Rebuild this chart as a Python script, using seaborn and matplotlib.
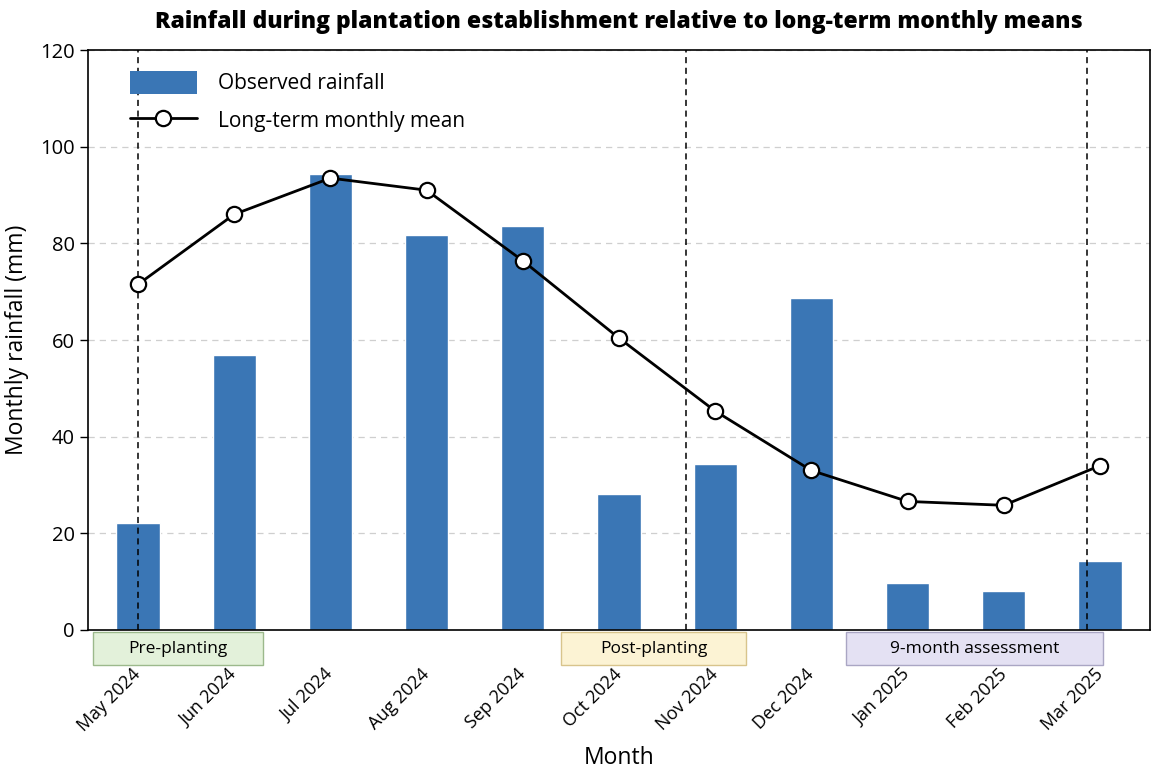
import numpy as np
import pandas as pd
import matplotlib
matplotlib.use("Agg")
import matplotlib.pyplot as plt
import seaborn as sns
from matplotlib.patches import Rectangle
from matplotlib.lines import Line2D
from matplotlib.patches import Patch

# data
months = ["May 2024", "Jun 2024", "Jul 2024", "Aug 2024", "Sep 2024", "Oct 2024",
          "Nov 2024", "Dec 2024", "Jan 2025", "Feb 2025", "Mar 2025"]
observed = [22.2, 56.9, 94.4, 81.7, 83.5, 28.2, 34.3, 68.6, 9.8, 8.0, 14.3]
longterm = [71.5, 86.0, 93.5, 91.0, 76.4, 60.4, 45.3, 33.0, 26.6, 25.8, 34.0]

# event markers (month index positions) and phase bands
events = [0.0, 5.7, 9.86]
phase_labels = ["Pre-planting", "Post-planting", "9-month assessment"]
phase_start = [-0.47, 4.40, 7.36]
phase_end = [1.30, 6.32, 10.03]
phase_fill = ["#e3f1da", "#fcf3d4", "#e4e1f3"]
phase_edge = ["#9cb98c", "#d8c48c", "#aaa6c4"]

df = pd.DataFrame({"month": months, "observed": observed, "longterm": longterm})

sns.set_theme(style="white")
plt.rcParams["font.family"] = ["Open Sans", "DejaVu Sans"]
plt.rcParams.update({"text.color": "black", "axes.labelcolor": "black",
                     "xtick.color": "black", "ytick.color": "black"})

fig = plt.figure(figsize=(11.68, 7.71), dpi=100)
ax = fig.add_axes([0.0753, 0.1829, 0.9093, 0.7522])

bar_color = "#3a76b5"
sns.barplot(data=df, x="month", y="observed", color=bar_color, width=0.45,
            saturation=1, ax=ax, zorder=2)
sns.lineplot(data=df, x="month", y="longterm", sort=False, color="black", lw=2,
             marker="o", markersize=11, markerfacecolor="white",
             markeredgecolor="black", markeredgewidth=1.6, ax=ax, zorder=4)

for ev in events:
    ax.axvline(ev, color="black", ls=(0, (4, 3)), lw=1.1, zorder=3)

ax.set_xlim(-0.52, 10.52)
ax.set_ylim(0, 120)
ax.set_yticks(np.arange(0, 121, 20))
ax.yaxis.grid(True, ls=(0, (5, 4)), color="#cfcfcf", lw=0.9)
ax.set_axisbelow(True)

for s in ax.spines.values():
    s.set_color("black")
    s.set_linewidth(1.2)

ax.tick_params(axis="y", left=True, length=6, width=1, labelsize=14.5)
ax.tick_params(axis="x", bottom=False, length=0, pad=30, labelsize=13)
for lab in ax.get_xticklabels():
    lab.set_rotation(45)
    lab.set_ha("right")
    lab.set_va("center")
    lab.set_rotation_mode("anchor")

ax.set_xlabel("Month", fontsize=16.5, labelpad=8)
ax.set_ylabel("Monthly rainfall (mm)", fontsize=16.5, labelpad=8)
ax.set_title("Rainfall during plantation establishment relative to long-term monthly means",
             fontsize=16.5, fontweight="heavy", pad=16)

# phase boxes under the x-axis
trans = ax.get_xaxis_transform()
for lab, x0, x1, fc, ec in zip(phase_labels, phase_start, phase_end, phase_fill, phase_edge):
    ax.add_patch(Rectangle((x0, -0.061), x1 - x0, 0.058, transform=trans,
                           facecolor=fc, edgecolor=ec, lw=1, clip_on=False, zorder=5))
    ax.text((x0 + x1) / 2, -0.032, lab, transform=trans, ha="center", va="center",
            fontsize=12.5, zorder=6)

handles = [Patch(facecolor=bar_color, edgecolor="none"),
           Line2D([0], [0], color="black", lw=2, marker="o", markersize=11,
                  markerfacecolor="white", markeredgecolor="black", markeredgewidth=1.6)]
ax.legend(handles, ["Observed rainfall", "Long-term monthly mean"], loc="upper left",
          frameon=False, fontsize=15, handlelength=3.2, handleheight=1.3,
          borderaxespad=0.6, bbox_to_anchor=(0.02, 1.0), labelspacing=0.7,
          handletextpad=1.0)

fig.savefig("out.png", dpi=100)
